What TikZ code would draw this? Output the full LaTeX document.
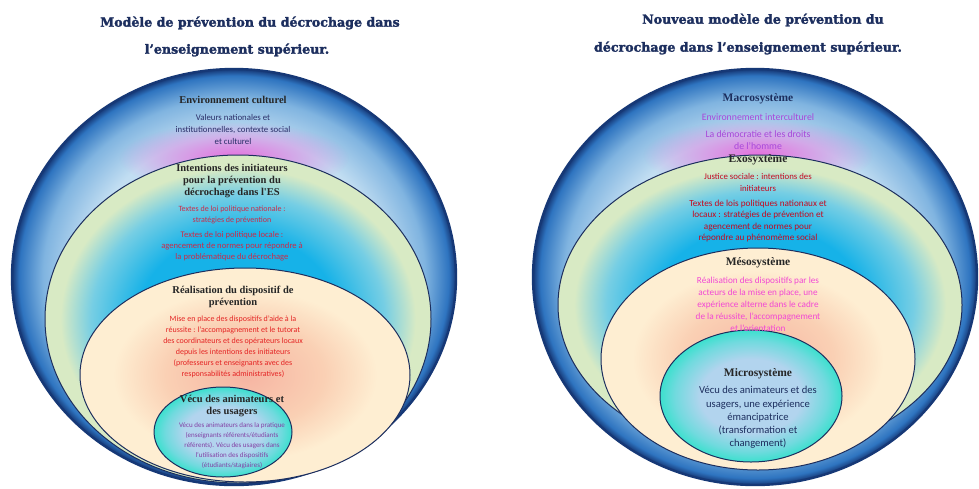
\documentclass[tikz,border=0pt]{standalone}
\usepackage{fontspec}
\setmainfont{Carlito}
\newfontfamily\headfont{Liberation Serif}
\newfontfamily\titlefont[UprightFont={* Bold}, UprightFeatures={FakeBold=2}]{DejaVu Serif}
\usetikzlibrary{shapes.geometric,fadings}
\definecolor{navy}{RGB}{28,46,94}
\definecolor{rim}{RGB}{22,56,118}
\definecolor{skyin}{RGB}{194,222,242}
\definecolor{skymid}{RGB}{128,180,224}
\definecolor{skyedge}{RGB}{46,116,192}
\definecolor{glow}{RGB}{230,112,222}
\definecolor{cyanin}{RGB}{22,178,232}
\definecolor{cyanmid}{RGB}{118,206,228}
\definecolor{leaf}{RGB}{216,234,196}
\definecolor{salmon}{RGB}{246,180,162}
\definecolor{peach}{RGB}{250,208,180}
\definecolor{cream}{RGB}{254,238,210}
\definecolor{paleblue}{RGB}{178,212,238}
\definecolor{aquamid}{RGB}{112,218,222}
\definecolor{aqua}{RGB}{60,224,206}
\definecolor{textnavy}{RGB}{42,46,104}
\definecolor{crimson}{RGB}{204,42,72}
\definecolor{scarlet}{RGB}{228,36,36}
\definecolor{plum}{RGB}{130,64,164}
\definecolor{violet}{RGB}{168,72,218}
\definecolor{darkred}{RGB}{198,8,30}
\definecolor{pinkish}{RGB}{242,72,212}
\pgfdeclareradialshading{skyshade}{\pgfpointorigin}{color(0bp)=(skyin); color(17bp)=(skyin); color(21.5bp)=(skymid); color(24.2bp)=(skyedge); color(25bp)=(rim); color(50bp)=(rim)}
\pgfdeclareradialshading{cyanshade}{\pgfpointorigin}{color(0bp)=(cyanin); color(13bp)=(cyanin); color(19bp)=(cyanmid); color(23bp)=(leaf); color(50bp)=(leaf)}
\pgfdeclareradialshading{peachshade}{\pgfpointorigin}{color(0bp)=(salmon); color(12bp)=(peach); color(20bp)=(cream); color(50bp)=(cream)}
\pgfdeclareradialshading{aquashade}{\pgfpointorigin}{color(0bp)=(paleblue); color(14bp)=(paleblue); color(21bp)=(aquamid); color(25bp)=(aqua); color(50bp)=(aqua)}
\tikzfading[name=glowfade, inner color=transparent!0, outer color=transparent!100]
\tikzset{
  ring/.style = {ellipse, draw=navy, line width=1pt, inner sep=0pt, shade},
  head/.style = {align=center, inner sep=0pt, text=black!85,
    font=\headfont\bfseries\fontsize{10.5}{12}\selectfont},
  bighead/.style = {head, font=\headfont\bfseries\fontsize{11.5}{12}\selectfont},
  body/.style = {align=center, inner sep=0pt},
  title/.style = {inner sep=0pt, text=navy,
    font=\titlefont\fontsize{12.6}{14}\selectfont},
}

\begin{document}
\begin{tikzpicture}[x=1pt,y=-1pt]
\path[use as bounding box, fill=white] (0,0) rectangle (979,488);

\node[title] (titleL1) at (250,23) {Modèle de prévention du décrochage dans};
\node[title] (titleL2) at (237,50) {l’enseignement supérieur.};
\node[title] (titleR1) at (763,20) {Nouveau modèle de prévention du};
\node[title] (titleR2) at (748,48) {décrochage dans l’enseignement supérieur.};

\node[ring, shading=skyshade, draw=rim, line width=2.4pt, minimum width=444pt, minimum height=416pt] (outerL) at (234,277) {};
\fill[glow, path fading=glowfade] (234,158) ellipse [x radius=115pt, y radius=36pt];
\node[ring, shading=cyanshade, minimum width=386pt, minimum height=328pt] (intL) at (238,319) {};
\node[ring, shading=peachshade, minimum width=330pt, minimum height=214pt] (realL) at (245,375) {};
\node[ring, shading=aquashade, minimum width=138pt, minimum height=90pt] (vecL) at (223,432) {};

\node[head] (envHead) at (233,100) {Environnement culturel};
\node[body, text=textnavy, font=\fontsize{8.8}{12}\selectfont] (envText) at (233,129) {Valeurs nationales et\\institutionnelles, contexte social\\et culturel};
\node[head] (intHead) at (232,181) {Intentions des initiateurs\\pour la prévention du\\décrochage dans l'ES};
\node[body, text=crimson, font=\fontsize{8}{10.5}\selectfont] (intText1) at (232,215) {Textes de loi politique nationale :\\stratégies de prévention};
\node[body, text=crimson, font=\fontsize{8.6}{11}\selectfont] (intText2) at (232,246) {Textes de loi politique locale :\\agencement de normes pour répondre à\\la problématique du décrochage};
\node[head] (realHead) at (233,297) {Réalisation du dispositif de\\prévention};
\node[body, text=scarlet, font=\fontsize{8}{11}\selectfont] (realText) at (233,346.5) {Mise en place des dispositifs d'aide à la\\réussite : l'accompagnement et le tutorat\\des coordinateurs et des opérateurs locaux\\depuis les intentions des initiateurs\\(professeurs et enseignants avec des\\responsabilités administratives)};
\node[head] (vecHead) at (232,406) {Vécu des animateurs et\\des usagers};
\node[body, text=plum, font=\fontsize{7}{10}\selectfont] (vecText) at (232,446) {Vécu des animateurs dans la pratique\\(enseignants référents/étudiants\\référents). Vécu des usagers dans\\l'utilisation des dispositifs\\(étudiants/stagiaires)};

\node[ring, shading=skyshade, draw=rim, line width=2.4pt, minimum width=444pt, minimum height=416pt] (outerR) at (755,277) {};
\fill[glow, path fading=glowfade] (758,155) ellipse [x radius=115pt, y radius=36pt];
\node[ring, shading=cyanshade, minimum width=404pt, minimum height=300pt] (exoR) at (760,305) {};
\node[ring, shading=peachshade, minimum width=314pt, minimum height=222pt] (mesoR) at (758,359) {};
\node[ring, shading=aquashade, minimum width=182pt, minimum height=132pt] (microR) at (751,396) {};

\node[bighead, text=navy] (macroHead) at (758,99) {Macrosystème};
\node[body, text=violet, font=\fontsize{9.8}{12}\selectfont] (macroText1) at (758,117) {Environnement interculturel};
\node[body, text=violet, font=\fontsize{9.8}{12}\selectfont] (macroText2) at (758,140) {La démocratie et les droits\\de l'homme};
\node[bighead] (exoHead) at (758,160) {Exosyxtème};
\node[body, text=darkred, font=\fontsize{8.8}{12}\selectfont] (exoText1) at (758,182) {Justice sociale : intentions des\\initiateurs};
\node[body, text=darkred, font=\fontsize{9.2}{11.4}\selectfont] (exoText2) at (758,221) {Textes de lois politiques nationaux et\\locaux : stratégies de prévention et\\agencement de normes pour\\répondre au phénomème social};
\node[bighead] (mesoHead) at (758,263) {Mésosystème};
\node[body, text=pinkish, font=\fontsize{9.2}{12}\selectfont] (mesoText) at (758,304) {Réalisation des dispositifs par les\\acteurs de la mise en place, une\\expérience alterne dans le cadre\\de la réussite, l'accompagnement\\et l'orientation};
\node[bighead] (microHead) at (758,374) {Microsystème};
\node[body, text=navy, font=\fontsize{10.6}{13.2}\selectfont] (microText) at (758,417.5) {Vécu des animateurs et des\\usagers, une expérience\\émancipatrice\\(transformation et\\changement)};
\end{tikzpicture}
\end{document}
